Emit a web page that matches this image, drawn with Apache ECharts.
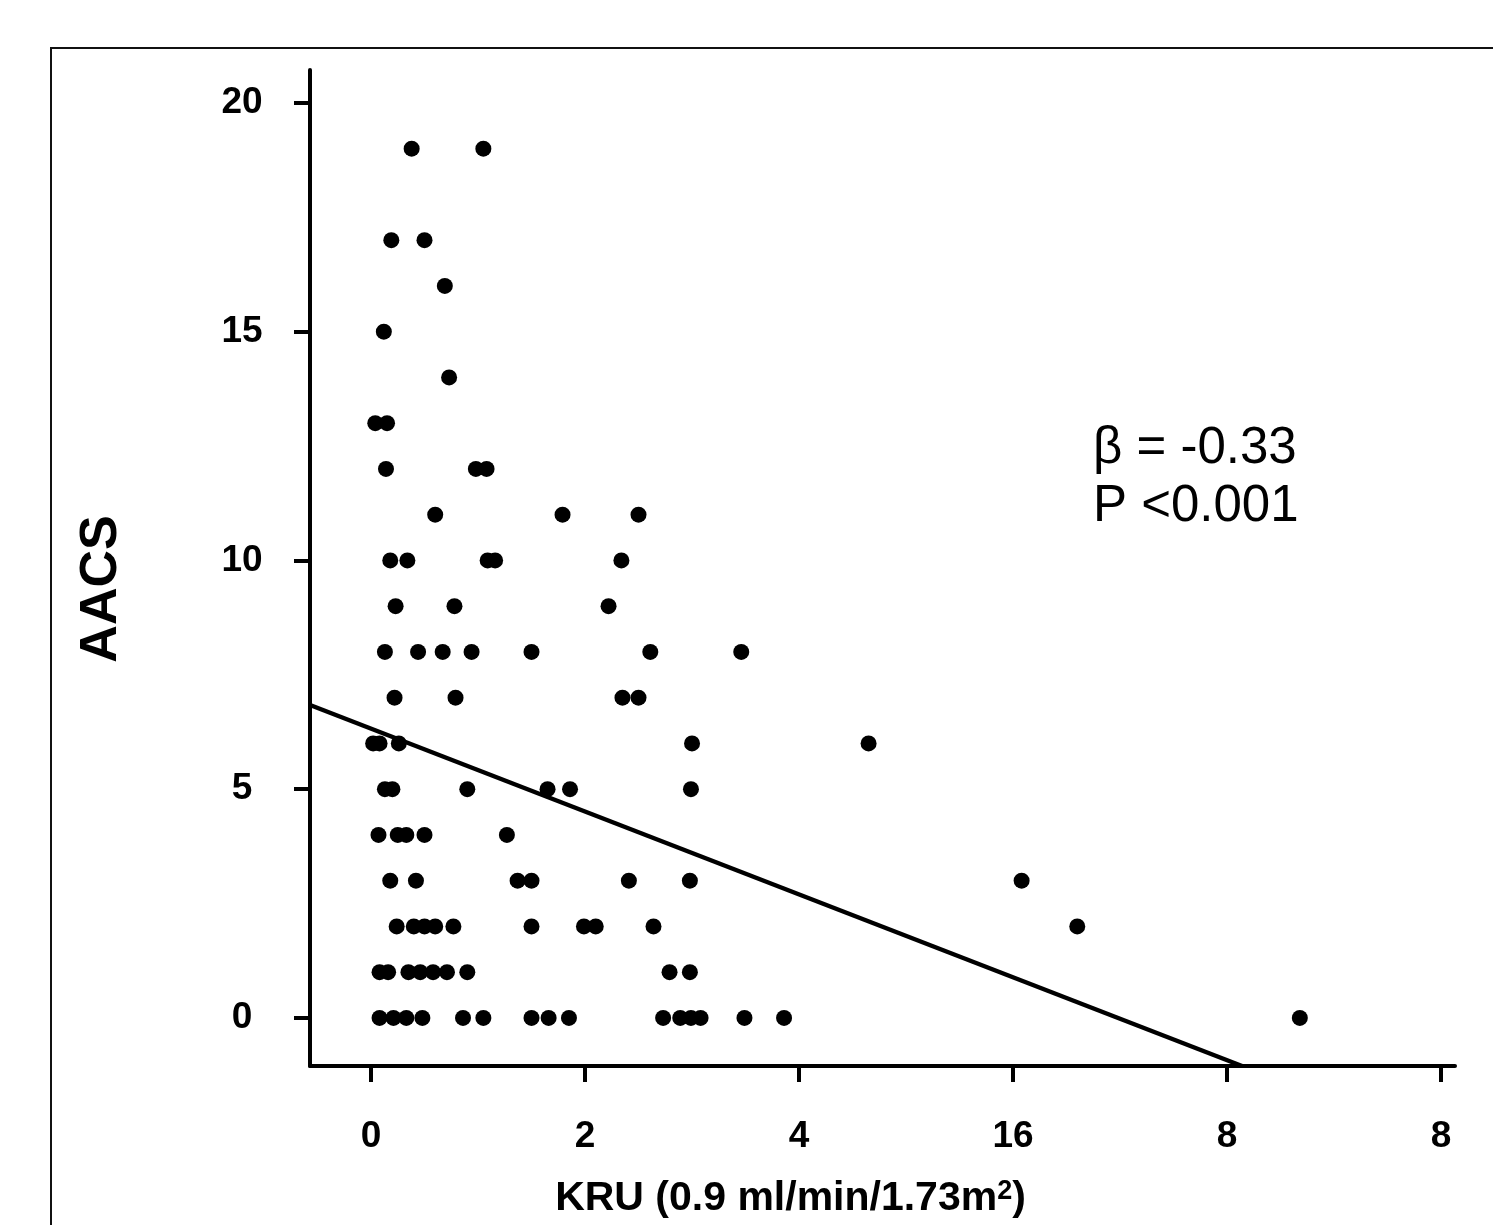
<!DOCTYPE html>
<html>
<head>
<meta charset="utf-8">
<script src="https://cdn.jsdelivr.net/npm/echarts@6/dist/echarts.min.js"></script>
<style>
html,body{margin:0;padding:0;background:#fff;}
#chart{width:1493px;height:1225px;}
</style>
</head>
<body>
<div id="chart"></div>
<script>
// KRU (x) and AACS (y) values
const kruValues = [
  0.38, 1.05,
  0.19, 0.50,
  0.69,
  0.12,
  0.73,
  0.04, 0.15,
  0.14, 0.98, 1.08,
  0.60, 1.79, 2.50,
  0.18, 0.34, 1.09, 1.16, 2.34,
  0.23, 0.78, 2.22,
  0.13, 0.44, 0.67, 0.94, 1.50, 2.61, 3.46,
  0.22, 0.79, 2.35, 2.50,
  0.02, 0.08, 0.26, 3.00, 4.65,
  0.13, 0.20, 0.90, 1.65, 1.86, 2.99,
  0.07, 0.25, 0.33, 0.50, 1.27,
  0.18, 0.42, 1.37, 1.50, 2.41, 2.98, 6.08,
  0.24, 0.40, 0.50, 0.60, 0.77, 1.50, 1.99, 2.10, 2.64, 6.60,
  0.08, 0.16, 0.35, 0.46, 0.58, 0.71, 0.90, 2.79, 2.98,
  0.08, 0.21, 0.33, 0.48, 0.86, 1.05, 1.50, 1.66, 1.85, 2.73, 2.89, 2.99, 3.08, 3.49, 3.86, 8.68
];
const aacsValues = [
  19, 19,
  17, 17,
  16,
  15,
  14,
  13, 13,
  12, 12, 12,
  11, 11, 11,
  10, 10, 10, 10, 10,
  9, 9, 9,
  8, 8, 8, 8, 8, 8, 8,
  7, 7, 7, 7,
  6, 6, 6, 6, 6,
  5, 5, 5, 5, 5, 5,
  4, 4, 4, 4, 4,
  3, 3, 3, 3, 3, 3, 3,
  2, 2, 2, 2, 2, 2, 2, 2, 2, 2,
  1, 1, 1, 1, 1, 1, 1, 1, 1,
  0, 0, 0, 0, 0, 0, 0, 0, 0, 0, 0, 0, 0, 0, 0, 0
];
// regression line end points
const fitX = [-0.57, 8.14];
const fitY = [6.84, -1.05];

const xTickValues = [0, 2, 4, 6, 8, 10];
const xTickLabels = ['0', '2', '4', '16', '8', '8'];
const yTickValues = [0, 5, 10, 15, 20];
const yTickLabels = ['0', '5', '10', '15', '20'];

const annotationLines = ['\u03b2 = -0.33', 'P <0.001'];

const FONT = "'Liberation Sans', Arial, sans-serif";

const chart = echarts.init(document.getElementById('chart'), null, {renderer: 'canvas'});

const points = kruValues.map((x, i) => [x, aacsValues[i]]);
const fitLine = fitX.map((x, i) => [x, fitY[i]]);

chart.setOption({
  backgroundColor: '#fff',
  animation: false,
  grid: {left: 310, right: 38, top: 70, bottom: 159},
  xAxis: {
    type: 'value',
    min: -0.57,
    max: 10.13,
    name: '{n|KRU (0.9 ml/min/1.73m}{s|2}{n|)}',
    nameLocation: 'middle',
    nameGap: 112,
    nameTextStyle: {
      padding: [0, 184, 0, 0],
      rich: {
        n: {fontFamily: FONT, fontWeight: 'bold', fontSize: 41, color: '#000'},
        s: {fontFamily: FONT, fontWeight: 'bold', fontSize: 27, color: '#000', verticalAlign: 'top', padding: [0, 0, 14, 0]}
      }
    },
    splitLine: {show: false},
    axisLine: {show: true, onZero: false, lineStyle: {color: '#000', width: 4}},
    axisTick: {show: true, length: 16, lineStyle: {color: '#000', width: 4}, customValues: xTickValues},
    axisLabel: {
      customValues: xTickValues,
      margin: 52,
      fontFamily: FONT, fontWeight: 'bold', fontSize: 37, color: '#000',
      formatter: v => xTickLabels[xTickValues.indexOf(Math.round(v))] ?? ''
    }
  },
  yAxis: {
    type: 'value',
    min: -1.05,
    max: 20.72,
    name: 'AACS',
    nameLocation: 'middle',
    nameGap: 182,
    nameRotate: 90,
    nameTextStyle: {fontFamily: FONT, fontWeight: 'bold', fontSize: 52, color: '#000', padding: [0, 42, 0, 0]},
    splitLine: {show: false},
    axisLine: {show: true, onZero: false, lineStyle: {color: '#000', width: 4}},
    axisTick: {show: true, length: 16, lineStyle: {color: '#000', width: 4}, customValues: yTickValues},
    axisLabel: {
      customValues: yTickValues,
      margin: 68,
      align: 'center',
      fontFamily: FONT, fontWeight: 'bold', fontSize: 37, color: '#000',
      formatter: v => yTickLabels[yTickValues.indexOf(Math.round(v))] ?? ''
    }
  },
  series: [
    {
      type: 'scatter',
      data: points,
      symbol: 'circle',
      symbolSize: 16,
      itemStyle: {color: '#000', opacity: 1},
      z: 3
    },
    {
      type: 'line',
      data: fitLine,
      symbol: 'none',
      lineStyle: {color: '#000', width: 4.5},
      z: 2
    }
  ],
  graphic: [
    {
      type: 'rect',
      shape: {x: 51, y: 48, width: 1600, height: 1400},
      style: {fill: 'none', stroke: '#111', lineWidth: 2},
      silent: true,
      z: -1
    },
    {
      type: 'text',
      left: 1093,
      top: 420,
      style: {
        text: annotationLines.join('\n'),
        fontFamily: FONT,
        fontSize: 51,
        lineHeight: 58,
        fill: '#000'
      }
    }
  ]
});
</script>
</body>
</html>
